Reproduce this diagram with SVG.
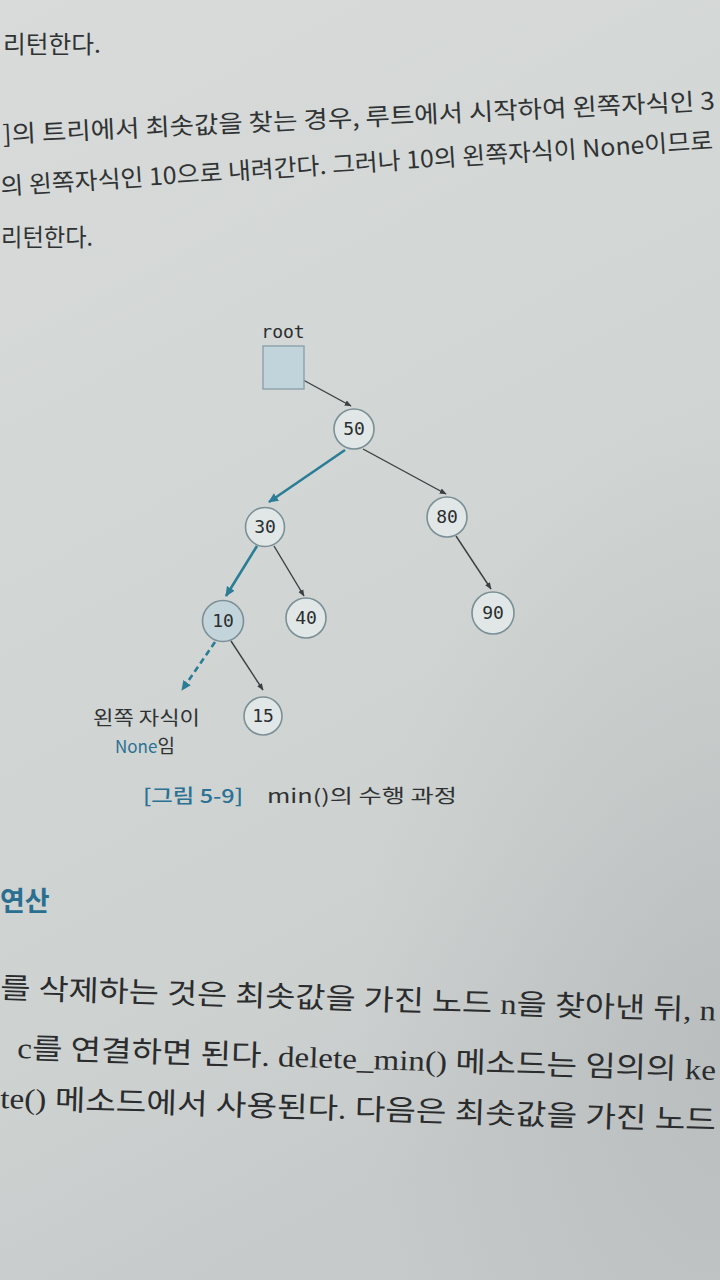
<svg xmlns="http://www.w3.org/2000/svg" width="720" height="1280" viewBox="0 0 720 1280">
<defs>
<linearGradient id="bg" x1="0" y1="0" x2="0.3" y2="1">
<stop offset="0" stop-color="#d8dbda"/>
<stop offset="0.45" stop-color="#d2d6d5"/>
<stop offset="0.8" stop-color="#cdd1d0"/>
<stop offset="1" stop-color="#c6caca"/>
</linearGradient>
<radialGradient id="shadow" cx="1" cy="0.82" r="0.5">
<stop offset="0" stop-color="#a3a8a8" stop-opacity="0.35"/>
<stop offset="1" stop-color="#a3a8a8" stop-opacity="0"/>
</radialGradient>
<marker id="ah" viewBox="0 0 10 10" refX="9" refY="5" markerWidth="7" markerHeight="7" orient="auto" markerUnits="userSpaceOnUse">
<path d="M0,1 L10,5 L0,9 z" fill="#3a3f42"/>
</marker>
<marker id="aht" viewBox="0 0 10 10" refX="9" refY="5" markerWidth="10" markerHeight="10" orient="auto" markerUnits="userSpaceOnUse">
<path d="M0,0.5 L10,5 L0,9.5 z" fill="#2b7d96"/>
</marker>
<style>
.body{font-family:"Noto Sans CJK KR","Noto Sans",sans-serif;font-size:24px;fill:#303334}
.serif{font-family:"Liberation Serif","Noto Sans CJK KR",serif;font-size:29px;fill:#2a2c2d}
.node{fill:#e1e7e7;stroke:#7b8f96;stroke-width:1.6}
.hl{fill:#c3d4da}
.mono{font-family:"DejaVu Sans Mono","Liberation Mono",monospace;font-size:18px;fill:#2a2e30;text-anchor:middle}
.edge{stroke:#3a3f42;stroke-width:1.4;fill:none;marker-end:url(#ah)}
.tedge{stroke:#2b7d96;stroke-width:2.6;fill:none;marker-end:url(#aht)}
.lbl{font-family:"Noto Sans CJK KR","Noto Sans",sans-serif;font-size:19px;fill:#2f3233}
.teal{fill:#2b7193}
</style>
</defs>
<rect width="720" height="1280" fill="url(#bg)"/>
<rect width="720" height="1280" fill="url(#shadow)"/>

<g id="top-text">
<text class="body" x="3" y="53" textLength="98" lengthAdjust="spacingAndGlyphs">리턴한다.</text>
<text class="body" x="3" y="143" transform="rotate(-2.7 3 143)" textLength="713" lengthAdjust="spacingAndGlyphs">]의 트리에서 최솟값을 찾는 경우, 루트에서 시작하여 왼쪽자식인 3</text>
<text class="body" x="1" y="195" transform="rotate(-3.7 1 195)" textLength="714" lengthAdjust="spacingAndGlyphs">의 왼쪽자식인 10으로 내려간다. 그러나 10의 왼쪽자식이 None이므로</text>
<text class="body" x="1" y="246" textLength="92" lengthAdjust="spacingAndGlyphs">리턴한다.</text>
</g>

<g id="connectors">
<line class="edge" x1="283" y1="369" x2="351" y2="406"/>
<line class="tedge" x1="345" y1="450" x2="269" y2="502"/>
<line class="edge" x1="363" y1="449" x2="446" y2="494"/>
<line class="tedge" x1="257" y1="546" x2="226" y2="596"/>
<line class="edge" x1="274" y1="546" x2="304" y2="596"/>
<line class="edge" x1="456" y1="536" x2="491" y2="589"/>
<line class="edge" x1="231" y1="641" x2="263" y2="690"/>
<line class="tedge" x1="215" y1="642" x2="182" y2="690" stroke-dasharray="6 4"/>
</g>

<g id="root">
<text class="mono" x="283" y="338" font-size="17">root</text>
<rect x="263" y="346" width="41" height="43" fill="#c2d4db" stroke="#8aa2aa" stroke-width="1.4"/>
</g>
<g id="n50"><circle class="node" cx="354" cy="429" r="20"/><text class="mono" x="354" y="435">50</text></g>
<g id="n30"><circle class="node" cx="265" cy="527" r="19.5"/><text class="mono" x="265" y="533">30</text></g>
<g id="n80"><circle class="node" cx="447" cy="517" r="20"/><text class="mono" x="447" y="523">80</text></g>
<g id="n10"><circle class="node hl" cx="223" cy="621" r="20.5"/><text class="mono" x="223" y="627">10</text></g>
<g id="n40"><circle class="node" cx="306" cy="618" r="20"/><text class="mono" x="306" y="624">40</text></g>
<g id="n90"><circle class="node" cx="493" cy="613" r="21"/><text class="mono" x="493" y="619">90</text></g>
<g id="n15"><circle class="node" cx="263" cy="716" r="19"/><text class="mono" x="263" y="722">15</text></g>

<g id="none-label">
<text class="lbl" x="93" y="725" textLength="107" lengthAdjust="spacingAndGlyphs">왼쪽 자식이</text>
<text class="lbl" x="115" y="753"><tspan class="teal" font-size="17">None</tspan>임</text>
</g>

<g id="caption">
<text class="lbl" x="143" y="803" font-size="23" font-weight="500" textLength="100" lengthAdjust="spacingAndGlyphs"><tspan class="teal">[그림 5-9]</tspan></text>
<text class="lbl" x="267" y="803" font-size="23" textLength="190" lengthAdjust="spacingAndGlyphs">min()의 수행 과정</text>
</g>

<g id="bottom-text">
<text x="0" y="911" font-family="Noto Sans CJK KR, sans-serif" font-size="27" font-weight="bold" fill="#2b6f90">연산</text>
<text class="serif" x="0" y="998" transform="rotate(1.8 0 998)" textLength="716" lengthAdjust="spacingAndGlyphs">를 삭제하는 것은 최솟값을 가진 노드 n을 찾아낸 뒤, n</text>
<text class="serif" x="17" y="1058" transform="rotate(1.8 17 1058)" textLength="699" lengthAdjust="spacingAndGlyphs">c를 연결하면 된다. delete_min() 메소드는 임의의 ke</text>
<text class="serif" x="0" y="1108" transform="rotate(1.8 0 1108)" textLength="716" lengthAdjust="spacingAndGlyphs">te() 메소드에서 사용된다. 다음은 최솟값을 가진 노드</text>
</g>
</svg>
